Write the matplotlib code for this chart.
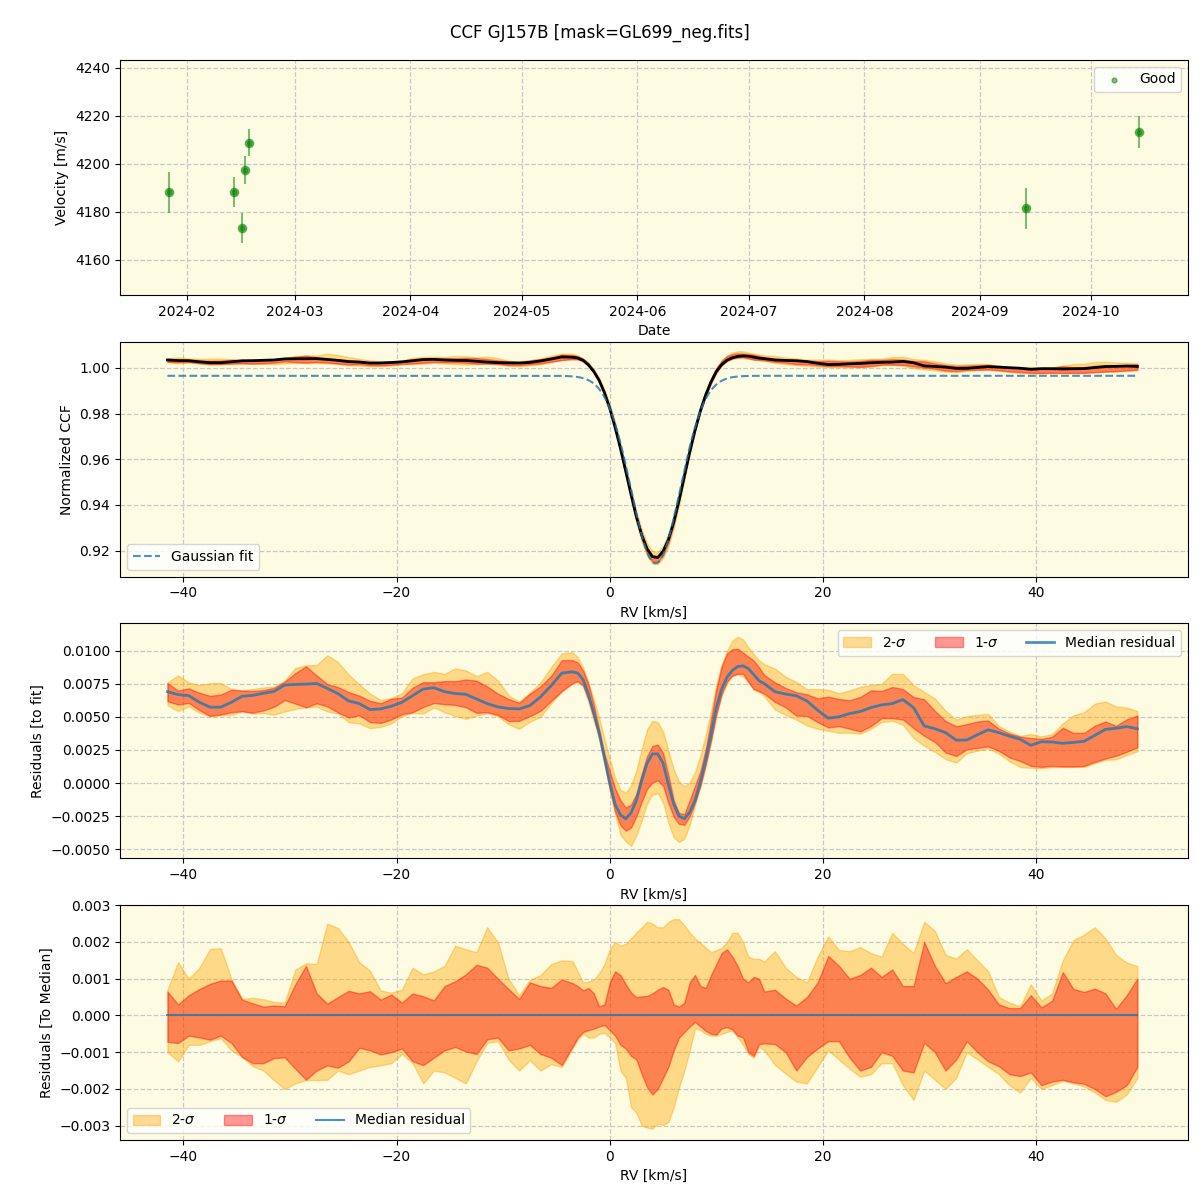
import numpy as np
import pandas as pd
import matplotlib
matplotlib.use('Agg')
import matplotlib.pyplot as plt
import matplotlib.dates as mdates

# radial velocity time series
obs_dates = pd.to_datetime(['2024-01-27 00:00', '2024-02-13 17:00', '2024-02-15 20:00',
                            '2024-02-16 16:00', '2024-02-17 17:00', '2024-09-13 08:00',
                            '2024-10-13 23:00'])
rv_vals = [4188.1, 4188.1, 4173.3, 4197.5, 4208.8, 4181.5, 4213.3]
rv_errs = [8.4, 6.3, 6.3, 5.7, 5.6, 8.5, 6.7]

# CCF velocity grid (finer across the line core)
rv_grid = np.concatenate([np.arange(-41.5, -3.0, 1.0),
                          np.arange(-3.0, 14.01, 0.5),
                          np.arange(14.5, 49.51, 1.0)])

# gaussian fit parameters
fit_cont = 0.9965
fit_depth = 0.082
fit_center = 4.3
fit_sigma = 2.3

# median residual to fit (units of 1e-3)
med_res = [6.9, 6.68, 6.6, 6.1, 5.73, 5.73, 6.1, 6.55, 6.62, 6.78, 6.92, 7.4, 7.45, 7.47, 7.52,
           7.15, 6.75, 6.2, 6.0, 5.55, 5.6, 5.8, 6.1, 6.6, 7.1, 7.2, 6.9, 6.76, 6.7, 6.35, 6.0,
           5.75, 5.63, 5.6, 5.85, 6.5, 7.35, 8.3, 8.4,
           8.3, 7.8, 6.7, 5.3, 3.8, 1.9, 0.0, -1.6, -2.4, -2.7, -2.25, -1.3, 0.2, 1.5, 2.2, 2.2,
           1.5, -0.1, -1.6, -2.5, -2.7, -2.2, -1.3, 0.1, 1.8, 3.7, 5.7, 7.1, 8.0, 8.5, 8.8, 8.85,
           8.65, 8.2, 7.73,
           7.5, 6.9, 6.72, 6.59, 6.2, 5.5, 4.9, 5.0, 5.25, 5.4, 5.7, 5.9, 6.0, 6.3, 5.7, 4.32,
           4.1, 3.81, 3.24, 3.25, 3.65, 4.02, 3.81, 3.54, 3.31, 2.85, 3.12, 3.1, 3.0, 3.07, 3.15,
           3.6, 4.05, 4.14, 4.26, 4.1]

# band edges relative to the median (units of 1e-3)
up2 = [0.7, 1.45, 1.0, 1.3, 1.81, 1.83, 1.0, 0.45, 0.48, 0.44, 0.37, 0.35, 1.25, 1.42, 1.4,
       2.5, 2.38, 2.0, 1.45, 1.22, 0.68, 0.62, 0.7, 1.3,
       1.12, 1.2, 1.35, 1.9, 1.8, 1.72, 2.4, 2.0, 1.0, 0.55, 0.97, 1.1, 1.4, 1.5, 1.48,
       1.2, 0.9, 0.92, 0.97, 1.15, 1.4, 1.8, 2.0, 1.9, 1.95, 2.1, 2.26, 2.4, 2.55, 2.5, 2.4,
       2.4, 2.55, 2.62, 2.62, 2.45, 2.26, 2.1, 1.98, 1.85, 1.72, 1.78, 1.84, 2.0, 2.25, 2.25,
       2.0, 1.6, 1.54, 1.54,
       1.47, 1.75, 1.3, 1.05, 0.9, 1.6, 2.15, 1.78, 1.75, 1.86, 1.7, 1.6, 2.25, 1.95, 1.7,
       2.55, 2.3, 1.65, 1.55, 1.8, 1.5, 1.2, 0.5, 0.35, 0.25, 0.85, 0.41, 0.6, 1.5, 2.05, 2.2,
       2.4, 2.1, 1.65, 1.44, 1.34]
up1 = [0.65, 0.3, 0.55, 0.72, 0.86, 0.95, 0.95, 0.43, 0.33, 0.24, 0.27, 0.25, 0.85, 1.35, 0.6,
       0.32, 0.5, 0.67, 0.6, 0.66, 0.43, 0.57, 0.35, 0.6,
       0.52, 0.41, 0.8, 0.93, 1.12, 1.38, 1.3, 1.0, 0.72, 0.45, 0.9, 0.8, 0.75, 0.98, 0.88,
       0.8, 0.68, 0.75, 0.6, 0.25, 0.3, 0.9, 1.2, 1.1, 0.85, 0.62, 0.5, 0.52, 0.53, 0.6, 0.7,
       0.77, 0.7, 0.3, 0.24, 0.35, 0.9, 1.1, 0.8, 0.75, 1.1, 1.4, 1.7, 1.8, 1.6, 1.35, 1.0,
       0.9, 1.05, 1.0,
       0.65, 0.7, 0.46, 0.27, 0.5, 0.9, 1.62, 1.35, 1.0, 1.1, 1.3, 1.05, 1.25, 0.8, 0.8,
       2.0, 1.35, 0.88, 1.05, 1.2, 1.0, 0.7, 0.3, 0.2, 0.2, 0.55, 0.22, 0.4, 1.18, 0.72, 0.64,
       0.73, 0.6, 0.18, 0.55, 1.0]
lo1 = [-0.72, -0.75, -0.55, -0.6, -0.66, -0.55, -0.75, -1.13, -1.3, -1.3, -1.16, -1.14, -1.45,
       -1.75, -1.5, -1.36, -1.42, -1.25, -0.88, -0.95, -1.06, -1.0, -0.9, -1.25,
       -1.35, -1.15, -0.95, -0.86, -0.98, -1.05, -0.65, -0.6, -0.95, -0.9, -0.8, -1.05, -1.15,
       -1.35, -0.85,
       -0.6, -0.45, -0.4, -0.36, -0.3, -0.26, -0.4, -0.55, -0.8, -0.9, -1.1, -1.2, -1.6, -1.95,
       -2.15, -2.0, -1.7, -1.4, -0.95, -0.6, -0.45, -0.3, -0.18, -0.3, -0.42, -0.5, -0.52,
       -0.35, -0.32, -0.38, -0.55, -0.6, -1.0, -1.1, -0.78,
       -0.76, -0.78, -1.0, -1.5, -1.13, -0.9, -0.7, -0.7, -1.15, -1.5, -1.4, -1.0, -1.1, -1.5,
       -1.55,
       -0.75, -1.0, -1.5, -1.2, -0.7, -1.0, -1.25, -1.38, -1.6, -1.65, -1.55, -1.9, -1.8, -1.75,
       -1.82, -1.86, -2.0, -2.2, -2.08, -1.9, -1.4]
lo2 = [-1.0, -1.25, -0.8, -0.8, -0.7, -0.62, -0.95, -1.13, -1.38, -1.5, -1.76, -2.0, -1.85,
       -1.76, -1.76, -1.75, -1.5, -1.6, -1.5, -1.4, -1.36, -1.3, -1.05, -1.3,
       -1.85, -1.5, -1.55, -1.7, -1.85, -1.25, -0.75, -0.7, -1.2, -1.5, -1.22, -1.5, -1.33,
       -1.4, -0.9,
       -0.65, -0.5, -0.6, -0.6, -0.5, -0.47, -0.6, -0.75, -1.5, -1.7, -2.5, -2.65, -3.0, -3.05,
       -3.08, -2.95, -2.98, -2.9, -2.5, -1.95, -1.5, -0.95, -0.35, -0.4, -0.5, -0.55, -0.55,
       -0.5, -0.45, -0.41, -0.6, -0.8, -1.05, -1.15, -0.85,
       -0.95, -1.35, -1.58, -1.8, -1.85, -1.4, -0.95, -1.2, -1.45, -1.67, -1.6, -1.3, -1.3,
       -1.9, -2.3,
       -1.5, -1.75, -2.0, -1.7, -1.0, -1.2, -1.4, -1.6, -1.9, -2.1, -1.7, -2.0, -1.9, -1.78,
       -1.85, -1.93, -2.1, -2.3, -2.35, -2.15, -1.7]

med = np.array(med_res) * 1e-3
up2 = np.array(up2) * 1e-3
up1 = np.array(up1) * 1e-3
lo1 = np.array(lo1) * 1e-3
lo2 = np.array(lo2) * 1e-3

fit = fit_cont - fit_depth * np.exp(-0.5 * ((rv_grid - fit_center) / fit_sigma) ** 2)
rv_fine = np.linspace(rv_grid[0], rv_grid[-1], 600)
fit_fine = fit_cont - fit_depth * np.exp(-0.5 * ((rv_fine - fit_center) / fit_sigma) ** 2)

bg = '#fdfce3'
blue = 'tab:blue'
xlim_rv = (-45.95, 54.25)

fig, axes = plt.subplots(4, 1, figsize=(12, 12))
fig.subplots_adjust(left=0.1, right=0.99, top=0.95, bottom=0.05, hspace=0.2)
fig.suptitle('CCF GJ157B [mask=GL699_neg.fits]', fontsize=12, y=0.98)

for ax in axes:
    ax.set_facecolor(bg)
    ax.grid(True, linestyle='--', color='#c8c8c8', linewidth=0.9)
    ax.set_axisbelow(True)

# panel 1: velocity time series
ax = axes[0]
ax.errorbar(obs_dates, rv_vals, yerr=rv_errs, fmt='o', color='green', alpha=0.5,
            ms=6, elinewidth=1.5)
ax.scatter(obs_dates, rv_vals, s=12, color='green', alpha=0.5, label='Good')
ax.set_ylim(4145.4, 4243.3)
ax.xaxis.set_major_locator(mdates.MonthLocator())
ax.xaxis.set_major_formatter(mdates.DateFormatter('%Y-%m'))
ax.set_xlabel('Date')
ax.set_ylabel('Velocity [m/s]')
ax.legend(loc='upper right')

# panel 2: normalized CCF
ax = axes[1]
ax.fill_between(rv_grid, fit + med + lo2, fit + med + up2, color='orange', alpha=0.4)
ax.fill_between(rv_grid, fit + med + lo1, fit + med + up1, color='red', alpha=0.4)
ax.plot(rv_grid, fit + med, color='black', lw=2)
ax.plot(rv_fine, fit_fine, '--', color=blue, alpha=0.8, lw=1.5, label='Gaussian fit')
ax.set_xlim(*xlim_rv)
ax.set_ylim(0.9087, 1.0114)
ax.set_xlabel('RV [km/s]')
ax.set_ylabel('Normalized CCF')
ax.legend(loc='lower left')

# panel 3: residuals to fit
ax = axes[2]
ax.fill_between(rv_grid, med + lo2, med + up2, color='orange', alpha=0.4, label='2-$\\sigma$')
ax.fill_between(rv_grid, med + lo1, med + up1, color='red', alpha=0.4, label='1-$\\sigma$')
ax.plot(rv_grid, med, color=blue, alpha=0.8, lw=2, label='Median residual')
ax.set_xlim(*xlim_rv)
ax.set_ylim(-0.00568, 0.01205)
ax.set_xlabel('RV [km/s]')
ax.set_ylabel('Residuals [to fit]')
ax.legend(loc='upper right', ncol=3)

# panel 4: residuals to median
ax = axes[3]
ax.fill_between(rv_grid, lo2, up2, color='orange', alpha=0.4, label='2-$\\sigma$')
ax.fill_between(rv_grid, lo1, up1, color='red', alpha=0.4, label='1-$\\sigma$')
ax.plot(rv_grid, med - med, color=blue, alpha=0.8, lw=1.5, label='Median residual')
ax.set_xlim(*xlim_rv)
ax.set_ylim(-0.00339, 0.003)
ax.set_xlabel('RV [km/s]')
ax.set_ylabel('Residuals [To Median]')
ax.legend(loc='lower left', ncol=3)

fig.savefig('out.png', dpi=100)
